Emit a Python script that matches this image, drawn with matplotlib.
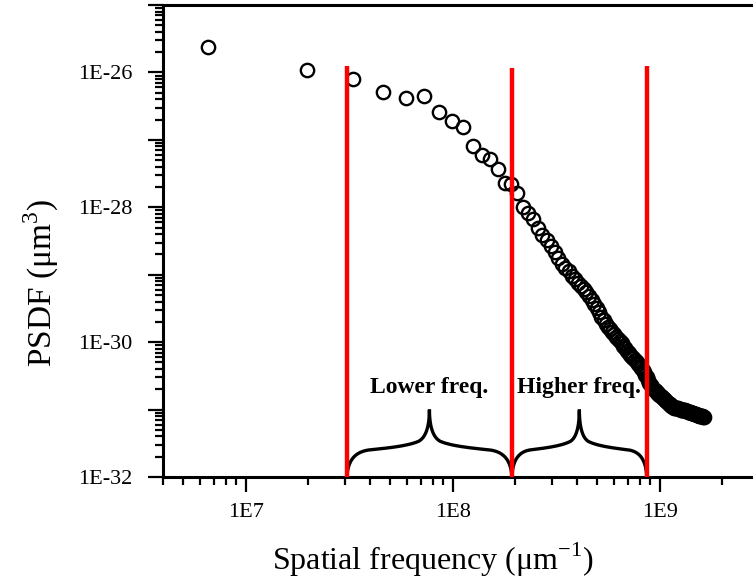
"""
PSDF vs spatial frequency, log-log, with the lower / higher frequency bands marked.
"""

import numpy as np
import matplotlib
matplotlib.use("Agg")
import matplotlib.pyplot as plt
import matplotlib.ticker as ticker

# spatial frequency (x 1E6 um^-1)
freq_e6 = [
    6.6, 19.8, 33.0, 46.2, 59.4, 72.6, 85.8, 99.0, 112.2, 125.4,
    138.6, 151.8, 165.0, 178.2, 191.4, 204.6, 217.8, 231.0, 244.2, 257.4,
    270.6, 283.8, 297.0, 310.2, 323.4, 336.6, 349.8, 363.0, 376.2, 389.4,
    402.6, 415.8, 429.0, 442.2, 455.4, 468.6, 481.8, 495.0, 508.2, 521.4,
    534.6, 547.8, 561.0, 574.2, 587.4, 600.6, 613.8, 627.0, 640.2, 653.4,
    666.6, 679.8, 693.0, 706.2, 719.4, 732.6, 745.8, 759.0, 772.2, 785.4,
    798.6, 811.8, 825.0, 838.2, 851.4, 864.6, 877.8, 891.0, 904.2, 917.4,
    930.6, 943.8, 957.0, 970.2, 983.4, 996.6, 1009.8, 1023.0, 1036.2, 1049.4,
    1062.6, 1075.8, 1089.0, 1102.2, 1115.4, 1128.6, 1141.8, 1155.0, 1168.2, 1181.4,
    1194.6, 1207.8, 1221.0, 1234.2, 1247.4, 1260.6, 1273.8, 1287.0, 1300.2, 1313.4,
    1326.6, 1339.8, 1353.0, 1366.2, 1379.4, 1392.6, 1405.8, 1419.0, 1432.2, 1445.4,
    1458.6, 1471.8, 1485.0, 1498.2, 1511.4, 1524.6, 1537.8, 1551.0, 1564.2, 1577.4,
    1590.6, 1603.8, 1617.0, 1630.2,
]

# log10 of PSDF (um^3)
log_psd = [
    -25.62, -25.96, -26.10, -26.29, -26.38, -26.35, -26.59, -26.72, -26.81, -27.09,
    -27.23, -27.28, -27.43, -27.64, -27.66, -27.79, -28.00, -28.08, -28.18, -28.31,
    -28.41, -28.48, -28.58, -28.67, -28.75, -28.84, -28.90, -28.95, -29.02, -29.07,
    -29.13, -29.17, -29.21, -29.26, -29.32, -29.38, -29.43, -29.50, -29.56, -29.62,
    -29.67, -29.73, -29.78, -29.81, -29.85, -29.88, -29.92, -29.95, -29.98, -30.01,
    -30.05, -30.09, -30.13, -30.16, -30.19, -30.22, -30.24, -30.27, -30.30, -30.33,
    -30.36, -30.39, -30.42, -30.45, -30.48, -30.52, -30.56, -30.60, -30.64, -30.67,
    -30.69, -30.71, -30.73, -30.75, -30.76, -30.78, -30.80, -30.82, -30.83, -30.85,
    -30.86, -30.88, -30.89, -30.91, -30.92, -30.94, -30.95, -30.96, -30.97, -30.97,
    -30.98, -30.98, -30.98, -30.99, -30.99, -31.00, -31.00, -31.00, -31.00, -31.01,
    -31.01, -31.02, -31.02, -31.03, -31.03, -31.04, -31.04, -31.05, -31.05, -31.05,
    -31.06, -31.06, -31.07, -31.07, -31.08, -31.08, -31.08, -31.09, -31.09, -31.10,
    -31.10, -31.10, -31.11, -31.11,
]

# band boundaries (red lines) and their top ends
bound_e6 = [30.8, 193.0, 865.0]
bound_top = [1.25e-26, 1.15e-26, 1.25e-26]
band_labels = ["Lower freq.", "Higher freq."]
band_label_y = 2.1e-31

XLIM = (10 ** 6.6, 10 ** 9.6)
YLIM = (1e-32, 1e-25)

plt.rcParams["font.family"] = ["Liberation Serif", "DejaVu Serif"]
plt.rcParams["mathtext.fontset"] = "custom"
plt.rcParams["mathtext.rm"] = "Liberation Serif"

# half brace, end -> tip, as cubic bezier segments (u along, v up in decades)
HALF_BRACE = [
    [(0.00, 0.00), (0.01, 0.25), (0.10, 0.37), (0.26, 0.40)],
    [(0.26, 0.40), (0.50, 0.43), (0.74, 0.46), (0.87, 0.53)],
    [(0.87, 0.53), (0.96, 0.59), (1.00, 0.76), (1.00, 1.00)],
]


def bezier(pts, n=40):
    p = np.array(pts, dtype=float)
    t = np.linspace(0, 1, n)[:, None]
    return ((1 - t) ** 3 * p[0] + 3 * (1 - t) ** 2 * t * p[1]
            + 3 * (1 - t) * t ** 2 * p[2] + t ** 3 * p[3])


def draw_brace(ax, xa, xb, ybase):
    """Curly brace between xa and xb (log x), standing on ybase (log y)."""
    half = np.vstack([bezier(seg) for seg in HALF_BRACE])
    la, lb = np.log10(xa), np.log10(xb)
    lm = (la + lb) / 2
    y0 = np.log10(ybase)
    left_x = la + half[:, 0] * (lm - la)
    right_x = lb - half[::-1, 0] * (lb - lm)
    lx = np.concatenate([left_x, right_x])
    ly = y0 + np.concatenate([half[:, 1], half[::-1, 1]])
    ax.plot(10 ** lx, 10 ** ly, color="black", lw=2.4, clip_on=False,
            solid_joinstyle="miter", zorder=4)


def exp_label(step):
    def fmt(v, pos):
        e = int(round(np.log10(v)))
        return f"1E{e}" if e % step == 0 else ""
    return fmt


def main():
    fig = plt.figure(figsize=(7.53, 5.83), dpi=100)
    ax = fig.add_axes([163 / 753, 106 / 583, 621 / 753, 472 / 583])

    freq = np.array(freq_e6) * 1e6
    psd = 10.0 ** np.array(log_psd)
    ax.plot(freq, psd, ls="none", marker="o", ms=9.6, mew=1.7,
            mfc="none", mec="black", zorder=2)

    bounds = np.array(bound_e6) * 1e6
    for xb, top in zip(bounds, bound_top):
        ax.plot([xb, xb], [YLIM[0], top], color="#ff0000", lw=3.2, zorder=5,
                solid_capstyle="butt", clip_on=False)

    for i, label in enumerate(band_labels):
        xa, xb = bounds[i], bounds[i + 1]
        draw_brace(ax, xa, xb, YLIM[0])
        xm = 10 ** ((np.log10(xa) + np.log10(xb)) / 2)
        ax.text(xm, band_label_y, label, ha="center", va="center",
                fontsize=17, fontweight="bold", zorder=6)

    ax.set_xscale("log")
    ax.set_yscale("log")
    ax.set_xlim(*XLIM)
    ax.set_ylim(*YLIM)

    ax.xaxis.set_major_locator(ticker.LogLocator(base=10, numticks=20))
    ax.xaxis.set_minor_locator(ticker.LogLocator(base=10, subs=np.arange(2, 10), numticks=20))
    ax.xaxis.set_major_formatter(ticker.FuncFormatter(exp_label(1)))
    ax.xaxis.set_minor_formatter(ticker.NullFormatter())
    ax.yaxis.set_major_locator(ticker.LogLocator(base=10, numticks=20))
    ax.yaxis.set_minor_locator(ticker.LogLocator(base=10, subs=np.arange(2, 10), numticks=20))
    ax.yaxis.set_major_formatter(ticker.FuncFormatter(exp_label(2)))
    ax.yaxis.set_minor_formatter(ticker.NullFormatter())

    ax.tick_params(which="both", direction="out", width=1.6, top=False, right=False,
                   labelsize=16)
    ax.tick_params(which="major", length=11, pad=8)
    ax.tick_params(axis="y", which="major", pad=11)
    ax.tick_params(which="minor", length=5.5)
    for side in ("left", "bottom", "top"):
        ax.spines[side].set_linewidth(2.2)
    ax.spines["right"].set_visible(False)

    ax.set_xlabel("Spatial frequency (μm$^{-1}$)", fontsize=23)
    ax.set_ylabel("PSDF (μm$^{3}$)", fontsize=24)
    ax.xaxis.set_label_coords((433 - 163) / 621, -0.135)
    ax.yaxis.set_label_coords(-0.165, (477 - 283) / 472)

    fig.savefig("out.png", dpi=100)


if __name__ == "__main__":
    main()
